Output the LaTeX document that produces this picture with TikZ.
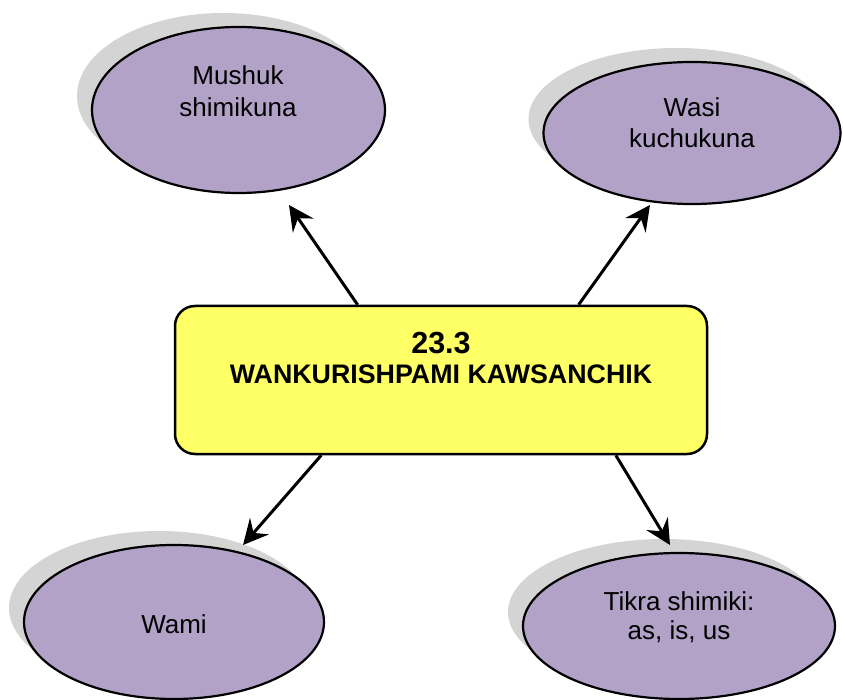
\documentclass[tikz,border=0pt]{standalone}
\usepackage{fontspec}
\setmainfont{Liberation Sans}
\usetikzlibrary{shapes.geometric,arrows.meta,shadows,calc}
\definecolor{lilac}{HTML}{B3A2C7}
\definecolor{lemon}{HTML}{FFFF66}
\definecolor{shade}{HTML}{D4D4D4}

\begin{document}
\begin{tikzpicture}[x=1pt,y=-1pt,
  topic/.style={ellipse, draw=black, line width=2.2pt, fill=lilac, inner sep=0pt,
    drop shadow={shadow xshift=-15pt, shadow yshift=14pt, fill=shade, opacity=1}},
  hubbox/.style={rectangle, rounded corners=20pt, draw=black, line width=2.5pt,
    fill=lemon, inner sep=0pt, minimum width=532pt, minimum height=148pt},
  topictext/.style={font=\fontsize{26}{32}\selectfont, anchor=base, inner sep=0pt},
  link/.style={line width=3pt, -{Stealth[length=25pt,width=25pt,inset=9pt]}}]

\useasboundingbox (0,0) rectangle (843,700);

% central box
\node[hubbox] (hub) at (441,380) {};
\node[anchor=base, inner sep=0pt, font=\fontsize{30.5}{36}\bfseries] (hubnum) at (441,353) {23.3};
\node[anchor=base, inner sep=0pt, font=\fontsize{26.8}{32}\bfseries] (hubtitle) at (441,384) {WANKURISHPAMI KAWSANCHIK};

% surrounding topics
\node[topic, minimum width=293pt, minimum height=166pt] (mushuk) at (238.5,110) {};
\node[topic, minimum width=297pt, minimum height=142pt] (wasi) at (692,133) {};
\node[topic, minimum width=300pt, minimum height=154pt] (wami) at (174,622) {};
\node[topic, minimum width=312pt, minimum height=146pt] (tikra) at (679,626) {};

\node[topictext] (mushukA) at (238,85) {Mushuk};
\node[topictext] (mushukB) at (238,117) {shimikuna};
\node[topictext] (wasiA) at (692,117) {Wasi};
\node[topictext] (wasiB) at (692,148) {kuchukuna};
\node[topictext] (wamiA) at (174,633) {Wami};
\node[topictext] (tikraA) at (679,610) {Tikra shimiki:};
\node[topictext] (tikraB) at (679,639) {as, is, us};

% arrow ends
\coordinate (s1) at ($(hub.north west)!0.344!(hub.north east)$);
\coordinate (s2) at ($(hub.north west)!0.7575!(hub.north east)$);
\coordinate (s3) at ($(hub.south west)!0.276!(hub.south east)$);
\coordinate (s4) at ($(hub.south west)!0.827!(hub.south east)$);
\coordinate (t1) at (289,205);
\coordinate (t2) at (650,205);
\coordinate (t3) at (243,545);
\coordinate (t4) at (670,545);

\draw[link] (s1) -- (t1);
\draw[link] (s2) -- (t2);
\draw[link] (s3) -- (t3);
\draw[link] (s4) -- (t4);
\end{tikzpicture}
\end{document}
